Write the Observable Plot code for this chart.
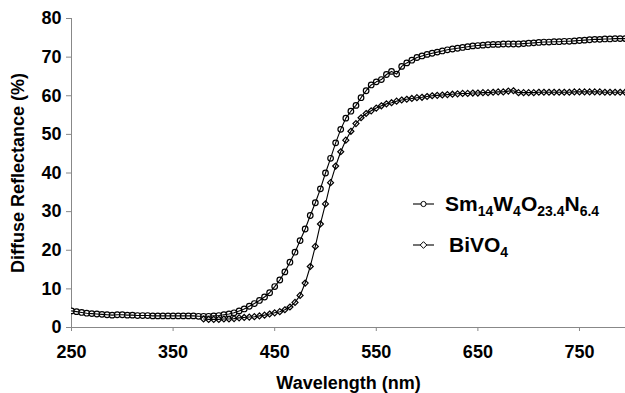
<!DOCTYPE html>
<html><head><meta charset="utf-8">
<script src="https://cdn.jsdelivr.net/npm/d3@7"></script>
<script src="https://cdn.jsdelivr.net/npm/@observablehq/plot@0.6"></script>
<style>body{margin:0;overflow:hidden;background:#fff}</style>
</head><body><div id="chart"></div>
<script>
const smWavelength = [250,255,260,265,270,275,280,285,290,295,300,305,310,315,320,325,330,335,340,345,350,355,360,365,370,375,380,385,390,395,400,405,410,415,420,425,430,435,440,445,450,455,460,465,470,475,480,485,490,495,500,505,510,515,520,525,530,535,540,545,550,555,560,565,570,575,580,585,590,595,600,605,610,615,620,625,630,635,640,645,650,655,660,665,670,675,680,685,690,695,700,705,710,715,720,725,730,735,740,745,750,755,760,765,770,775,780,785,790,795,800];
const smReflectance = [4.3,4.1,3.9,3.7,3.6,3.5,3.4,3.3,3.2,3.3,3.3,3.2,3.2,3.1,3.1,3.1,3.0,3.0,3.0,3.0,3.0,3.0,3.0,3.0,3.0,2.9,2.9,2.9,3.0,3.1,3.3,3.5,3.8,4.3,4.8,5.5,6.2,7.0,7.9,9.0,10.6,12.3,14.4,16.9,19.5,22.5,25.5,29.0,32.3,35.9,40.0,43.8,47.8,51.3,54.2,56.0,57.5,59.5,61.3,62.8,63.6,64.2,65.5,66.3,65.6,67.6,68.5,69.2,69.9,70.3,70.7,71.0,71.3,71.6,71.9,72.1,72.3,72.5,72.7,72.9,73.0,73.1,73.2,73.3,73.3,73.4,73.4,73.4,73.4,73.5,73.6,73.7,73.8,73.9,73.9,74.0,74.0,74.1,74.1,74.2,74.3,74.4,74.5,74.6,74.6,74.7,74.7,74.8,74.8,74.8,74.8];
const biWavelength = [380,385,390,395,400,405,410,415,420,425,430,435,440,445,450,455,460,465,470,475,480,485,490,495,500,505,510,515,520,525,530,535,540,545,550,555,560,565,570,575,580,585,590,595,600,605,610,615,620,625,630,635,640,645,650,655,660,665,670,675,680,685,690,695,700,705,710,715,720,725,730,735,740,745,750,755,760,765,770,775,780,785,790,795,800];
const biReflectance = [2.2,2.1,2.1,2.1,2.2,2.2,2.3,2.5,2.6,2.7,2.8,3.0,3.2,3.5,3.8,4.1,4.6,5.3,6.5,8.3,11.5,15.8,21.0,26.8,32.0,37.5,41.8,45.5,48.5,50.8,52.8,54.3,55.4,56.1,56.8,57.4,57.9,58.2,58.6,58.9,59.1,59.3,59.5,59.6,59.8,60.0,60.1,60.2,60.3,60.4,60.5,60.6,60.6,60.7,60.7,60.8,60.8,60.9,61.0,61.0,61.2,61.3,60.8,60.8,60.8,60.8,60.9,60.9,60.9,60.9,60.9,60.9,60.9,61.0,61.0,61.0,61.0,61.0,61.0,60.9,60.9,60.9,60.9,60.9,60.9];
const xTicks = [250,350,450,550,650,750];
const yTicks = [0,10,20,30,40,50,60,70,80];

const sm = smWavelength.map((w, i) => ({w, r: smReflectance[i]}));
const bi = biWavelength.map((w, i) => ({w, r: biReflectance[i]}));

const plot = Plot.plot({
  width: 625, height: 393,
  marginLeft: 71, marginTop: 18, marginBottom: 66, marginRight: 0,
  style: {fontFamily: "'Liberation Sans', Arial, sans-serif", fontWeight: "bold", fontSize: "18px", color: "#000", background: "#fff"},
  x: {domain: [250, 795.3]},
  y: {domain: [0, 80]},
  marks: [
    Plot.ruleY([0], {stroke: "#888"}),
    Plot.ruleX([250], {stroke: "#888"}),
    Plot.axisX({ticks: xTicks, tickSize: 4, tickPadding: 14, stroke: "#888", fill: "#000", label: "Wavelength (nm)", labelAnchor: "center", labelArrow: "none", labelOffset: 61}),
    Plot.axisY({ticks: yTicks, tickSize: 5, tickPadding: 5, stroke: "#888", fill: "#000", label: "Diffuse Reflectance (%)", labelAnchor: "center", labelArrow: "none", labelOffset: 60}),
    Plot.dot(sm, {x: "w", y: "r", r: 2.8, stroke: "#000", fill: "#fff", strokeWidth: 1.2, clip: true}),
    Plot.line(sm, {x: "w", y: "r", stroke: "#000", strokeWidth: 1.1, clip: true}),
    Plot.dot(bi, {x: "w", y: "r", symbol: "diamond2", r: 2.7, stroke: "#000", fill: "#fff", strokeWidth: 1.2, clip: true}),
    Plot.line(bi, {x: "w", y: "r", stroke: "#000", strokeWidth: 1.1, clip: true})
  ]
});
document.getElementById("chart").append(plot);

// Legend
const svg = d3.select(plot);
const lg = svg.append("g")
  .attr("font-family", "'Liberation Sans', Arial, sans-serif")
  .attr("font-weight", "bold")
  .attr("text-anchor", "start")
  .attr("fill", "#000");
function addItem(y, symbol, parts) {
  lg.append("line").attr("x1", 413).attr("x2", 434).attr("y1", y).attr("y2", y).attr("stroke", "#000").attr("stroke-width", 1.1);
  if (symbol === "circle") {
    lg.append("circle").attr("cx", 423.5).attr("cy", y).attr("r", 2.6).attr("fill", "#fff").attr("stroke", "#000");
  } else {
    lg.append("path").attr("d", d3.symbol(d3.symbolDiamond2, 28)()).attr("transform", `translate(423.5,${y})`).attr("fill", "#fff").attr("stroke", "#000");
  }
  const t = lg.append("text").attr("x", parts.x).attr("y", y + 7).attr("font-size", 21).attr("text-anchor", "start");
  let sub = false;
  for (const [s, isSub] of parts.items) {
    const ts = t.append("tspan").text(s);
    if (isSub) {
      ts.attr("font-size", 14);
      if (!sub) { ts.attr("dy", 5); sub = true; }
    } else if (sub) {
      ts.attr("dy", -5); sub = false;
    }
  }
}
addItem(204, "circle", {x: 445, items: [["Sm", false], ["14", true], ["W", false], ["4", true], ["O", false], ["23.4", true], ["N", false], ["6.4", true]]});
addItem(245, "diamond", {x: 449, items: [["BiVO", false], ["4", true]]});
</script>
</body></html>
